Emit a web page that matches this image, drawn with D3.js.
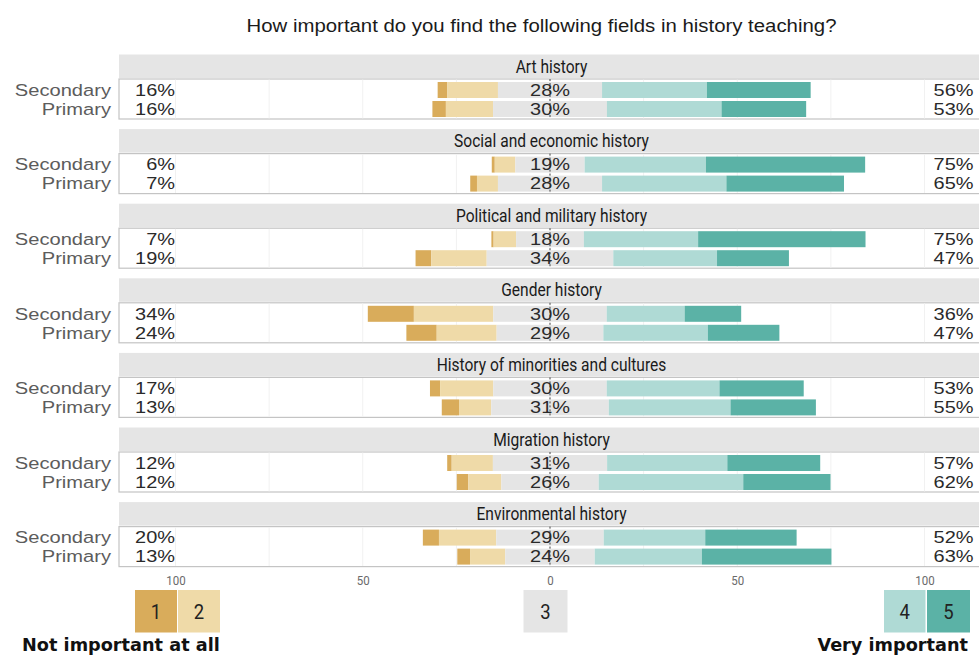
<!DOCTYPE html>
<html>
<head>
<meta charset="utf-8">
<script src="https://cdn.jsdelivr.net/npm/d3@7"></script>
<style>
  html, body { margin: 0; padding: 0; background: #fff; }
  svg { display: block; }
</style>
</head>
<body>
<svg id="chart" width="979" height="655"></svg>
<script>
// ---------------- DATA ----------------
const title = "How important do you find the following fields in history teaching?";
const fields = [
  "Art history",
  "Social and economic history",
  "Political and military history",
  "Gender history",
  "History of minorities and cultures",
  "Migration history",
  "Environmental history"
];
const groups = ["Secondary", "Primary"];
// each entry: [Secondary, Primary] share in percent
const level1 = [[2.6, 3.6], [0.8, 1.8], [0.6, 4.2], [12.3, 8.1], [2.7, 4.6], [1.2, 3.1], [4.3, 3.4]];
const level2 = [[13.5, 12.6], [5.5, 5.6], [6.0, 14.8], [21.2, 16.0], [14.2, 8.6], [11.0, 8.8], [15.3, 9.4]];
const level3 = [[27.8, 30.4], [18.5, 27.8], [18.1, 33.8], [30.3, 28.5], [30.3, 31.4], [30.5, 26.0], [28.7, 23.9]];
const level4 = [[28.0, 30.6], [32.4, 33.2], [30.5, 27.7], [20.8, 27.9], [30.1, 32.5], [32.1, 38.6], [27.1, 28.6]];
const level5 = [[27.7, 22.6], [42.5, 31.4], [44.7, 19.2], [15.1, 19.1], [22.5, 22.8], [24.8, 23.3], [24.4, 34.6]];
// printed labels
const leftLabels    = [[16, 16], [6, 7], [7, 19], [34, 24], [17, 13], [12, 12], [20, 13]];
const neutralLabels = [[28, 30], [19, 28], [18, 34], [30, 29], [30, 31], [31, 26], [29, 24]];
const rightLabels   = [[56, 53], [75, 65], [75, 47], [36, 47], [53, 55], [57, 62], [52, 63]];
const levelNames = ["1", "2", "3", "4", "5"];
const axisTicks = [-100, -50, 0, 50, 100];
const lowLabel = "Not important at all";
const highLabel = "Very important";

// ---------------- STYLE ----------------
const colors = ["#d9ac5b", "#efdaa8", "#e5e5e5", "#afdad5", "#5bb2a6"];
const sansFont = "'Liberation Sans', Arial, sans-serif";
const stripFont = "Roboto, 'Noto Sans', sans-serif";

const svg = d3.select("#chart");
const x = d3.scaleLinear().domain([-100, 100]).range([175.5, 924.5]);
const panelLeft = 119, panelRight = 985;
const panelTop0 = 54.5, panelStep = 74.6;
const stripH = 23.5, bodyTopOff = 24.5, bodyBotOff = 64.5;

// text helper with horizontal stretch factor
function sText(parent, px, py, str, o) {
  return parent.append("text")
    .attr("transform", `translate(${px},${py}) scale(${o.sx || 1},1)`)
    .attr("x", 0).attr("y", 0)
    .attr("dy", o.dy || null)
    .attr("text-anchor", o.anchor || "start")
    .attr("font-family", o.font || sansFont)
    .attr("font-size", o.size)
    .attr("font-weight", o.weight || null)
    .attr("fill", o.fill || "#222")
    .text(str);
}

// title
sText(svg, 541.5, 31.5, title, { anchor: "middle", size: 18.7, sx: 1.09, fill: "#1a1a1a" });

const levelArrays = [level1, level2, level3, level4, level5];

fields.forEach((field, i) => {
  const T = panelTop0 + i * panelStep;
  const g = svg.append("g");
  // strip
  g.append("rect")
    .attr("x", panelLeft).attr("y", T)
    .attr("width", panelRight - panelLeft).attr("height", stripH)
    .attr("fill", "#e5e5e5");
  sText(g, (panelLeft + 979) / 2 + 2.5, T + stripH / 2, field,
    { anchor: "middle", dy: "0.36em", font: stripFont, size: 17.5, sx: 0.89, fill: "#1a1a1a" });
  // body
  const bTop = T + bodyTopOff, bBot = T + bodyBotOff;
  g.append("rect")
    .attr("x", panelLeft).attr("y", bTop)
    .attr("width", panelRight - panelLeft).attr("height", bBot - bTop)
    .attr("fill", "#fff").attr("stroke", "#c4c4c4").attr("stroke-width", 1.2);
  // grid lines
  g.selectAll("line.grid")
    .data(d3.range(-100, 101, 25))
    .join("line")
    .attr("x1", d => x(d)).attr("x2", d => x(d))
    .attr("y1", bTop + 0.6).attr("y2", bBot - 0.6)
    .attr("stroke", "#f1f1f1").attr("stroke-width", 1);

  const y = d3.scaleBand().domain(groups)
    .range([T + 26, T + 64]).paddingInner(0.158).paddingOuter(0.079);

  groups.forEach((grp, k) => {
    const vals = levelArrays.map(a => a[i][k]);
    // stacked segments: neutral centered on 0
    const starts = [];
    starts[2] = -vals[2] / 2;
    starts[1] = starts[2] - vals[1];
    starts[0] = starts[1] - vals[0];
    starts[3] = vals[2] / 2;
    starts[4] = starts[3] + vals[3];
    const segs = vals.map((v, j) => ({ j, s: starts[j], v }));
    g.selectAll("rect.seg" + k)
      .data(segs)
      .join("rect")
      .attr("class", "seg" + k)
      .attr("x", d => x(d.s))
      .attr("width", d => x(d.s + d.v) - x(d.s))
      .attr("y", y(grp))
      .attr("height", y.bandwidth())
      .attr("fill", d => colors[d.j]);

    const cy = y(grp) + y.bandwidth() / 2;
    sText(svg, 111, cy, grp, { anchor: "end", dy: "0.35em", size: 16.5, sx: 1.22, fill: "#5c5c5c" });
    sText(g, x(-100) - 0.5, cy, leftLabels[i][k] + "%", { anchor: "end", dy: "0.35em", size: 16.5, sx: 1.21, fill: "#2a2a2a" });
    sText(g, 973.5, cy, rightLabels[i][k] + "%", { anchor: "end", dy: "0.35em", size: 16.5, sx: 1.21, fill: "#2a2a2a" });
  });

  // zero reference line
  g.append("line")
    .attr("x1", x(0)).attr("x2", x(0))
    .attr("y1", bTop).attr("y2", bBot)
    .attr("stroke", "#444").attr("stroke-width", 1)
    .attr("stroke-dasharray", "2,2");

  groups.forEach((grp, k) => {
    const cy = y(grp) + y.bandwidth() / 2;
    sText(g, x(0), cy, neutralLabels[i][k] + "%", { anchor: "middle", dy: "0.35em", size: 16.5, sx: 1.21, fill: "#2a2a2a" });
  });
});

// axis
const axisY = 570;
const axis = d3.axisBottom(x).tickValues(axisTicks).tickFormat(d => Math.abs(d)).tickSize(0).tickPadding(6);
const ag = svg.append("g").attr("transform", `translate(0,${axisY})`).call(axis);
ag.select(".domain").remove();
ag.selectAll("text").attr("font-family", stripFont).attr("font-size", 12.5).attr("fill", "#6a6a6a")
  .attr("transform", "scale(0.92,1)");

// legend
const boxY = 590, boxH = 42.5;
const legendBoxes = [
  { lvl: 0, x0: x(-100) - 40.5, x1: x(-100) + 1.5 },
  { lvl: 1, x0: x(-100) + 2.5, x1: x(-100) + 44.5 },
  { lvl: 2, x0: x(0) - 26.5, x1: x(0) + 17.5 },
  { lvl: 3, x0: x(100) - 40.5, x1: x(100) + 1 },
  { lvl: 4, x0: x(100) + 2.5, x1: x(100) + 45.5 }
];
const lg = svg.append("g");
lg.selectAll("rect").data(legendBoxes).join("rect")
  .attr("x", d => d.x0).attr("y", boxY)
  .attr("width", d => d.x1 - d.x0).attr("height", boxH)
  .attr("fill", d => colors[d.lvl]);
legendBoxes.forEach(d => {
  sText(lg, (d.x0 + d.x1) / 2, boxY + boxH / 2, levelNames[d.lvl],
    { anchor: "middle", dy: "0.36em", font: stripFont, size: 21, sx: 0.88, fill: "#222" });
});

sText(svg, 22, 651, lowLabel, { font: "'DejaVu Sans', Verdana, sans-serif", weight: "bold", size: 17.7, fill: "#111" });
sText(svg, 968, 651, highLabel, { anchor: "end", font: "'DejaVu Sans', Verdana, sans-serif", weight: "bold", size: 17.7, fill: "#111" });
</script>
</body>
</html>
